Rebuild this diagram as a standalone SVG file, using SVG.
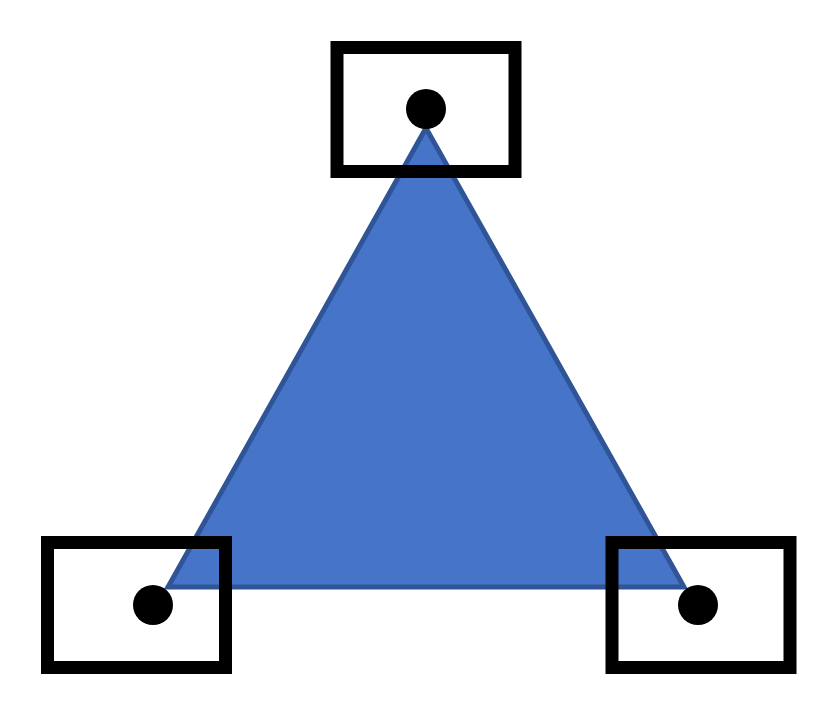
<svg xmlns="http://www.w3.org/2000/svg" width="833" height="715" viewBox="0 0 833 715">
<style>
.box{fill:none;stroke:#000;stroke-width:13}
.dot{fill:#000}
</style>
<rect width="833" height="715" fill="#fff"/>
<g id="triangle"><polygon points="426,128 168,587 684,587" fill="#4674C9" stroke="#2F5597" stroke-width="5" stroke-linejoin="miter"/></g>
<g id="node-top"><rect class="box" x="337" y="47.5" width="178" height="124"/><circle class="dot" cx="426" cy="109" r="20"/></g>
<g id="node-left"><rect class="box" x="47.5" y="542.5" width="178" height="125"/><circle class="dot" cx="153" cy="605" r="20"/></g>
<g id="node-right"><rect class="box" x="612" y="542.5" width="178" height="125"/><circle class="dot" cx="698" cy="605" r="20"/></g>
<g id="connectors"></g>
</svg>
